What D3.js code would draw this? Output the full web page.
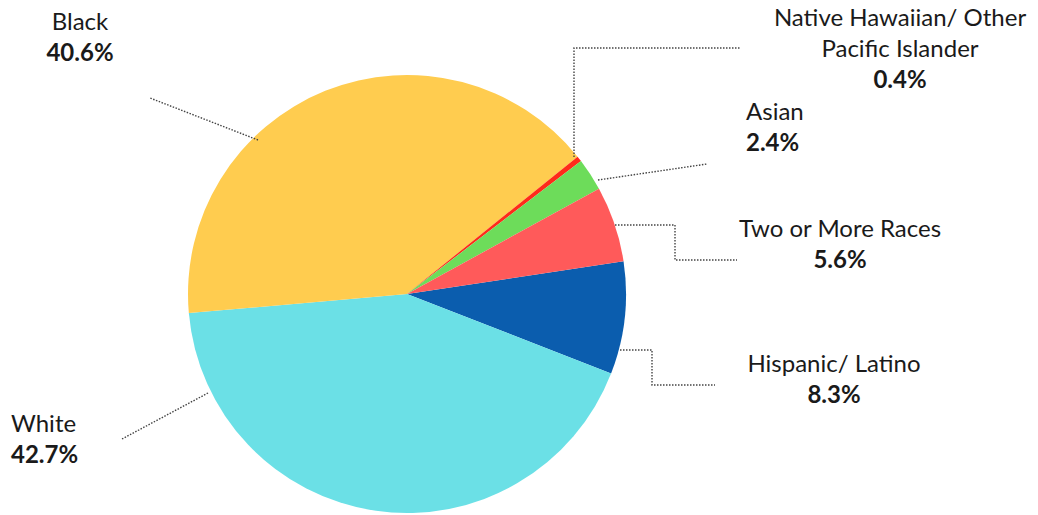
<!DOCTYPE html>
<html><head><meta charset="utf-8">
<script src="https://cdn.jsdelivr.net/npm/d3@7"></script>
<style>
html,body{margin:0;padding:0;background:#fff;}
svg{display:block;}
text{font-family:Lato,"Open Sans",sans-serif;fill:#1a1a1a;}
</style></head>
<body>
<svg id="chart" width="1038" height="515"></svg>
<script>
// Data (in drawing order, clockwise starting with Hispanic/ Latino)
const categories = ["Hispanic/ Latino", "White", "Black", "Native Hawaiian/ Other Pacific Islander", "Asian", "Two or More Races"];
const values = [8.3, 42.7, 40.6, 0.4, 2.4, 5.6];
const colors = ["#0B5DAE", "#6BE0E6", "#FFCC4F", "#FF2A1A", "#6DDC5A", "#FF5A5A"];
const labelLines = [["Hispanic/ Latino"], ["White"], ["Black"], ["Native Hawaiian/ Other", "Pacific Islander"], ["Asian"], ["Two or More Races"]];
const pctLabels = ["8.3%", "42.7%", "40.6%", "0.4%", "2.4%", "5.6%"];

const svg = d3.select("#chart");
const cx = 407, cy = 294, R = 219;
const startDeg = 81.4;

const pie = d3.pie().sort(null).value(d => d)
  .startAngle(startDeg * Math.PI / 180)
  .endAngle((startDeg + 360) * Math.PI / 180);
const arcs = pie(values);
const arc = d3.arc().innerRadius(0).outerRadius(R);

const g = svg.append("g").attr("transform", `translate(${cx},${cy})`);
g.selectAll("path").data(arcs).join("path")
  .attr("d", arc)
  .attr("fill", (d, i) => colors[i]);

// Label layout (positions and leader-line routing)
const layout = [
  { anchor: "middle", x: 834, y: 372, leader: [[620, 350], [652, 350], [652, 385], [715, 385]] },
  { anchor: "start", x: 11, y: 432, leader: [[208, 393], [122, 439]] },
  { anchor: "middle", x: 80, y: 30, leader: [[258, 140], [150, 98]] },
  { anchor: "middle", x: 900, y: 26, leader: [[574, 157], [574, 48], [740, 48]] },
  { anchor: "start", x: 746, y: 120, leader: [[598, 180], [707, 164]] },
  { anchor: "middle", x: 840, y: 237, leader: [[615, 225], [675, 225], [675, 260], [737, 260]] }
];

const lineH = 31;
const line = d3.line();
layout.forEach((L, i) => {
  svg.append("path")
    .attr("d", line(L.leader))
    .attr("fill", "none")
    .attr("stroke", "#444")
    .attr("stroke-width", 1.4)
    .attr("stroke-dasharray", "1.5,1.5");
  const t = svg.append("text").attr("text-anchor", L.anchor).style("font-size", "24px");
  labelLines[i].forEach((s, k) => {
    t.append("tspan").attr("x", L.x).attr("y", L.y + k * lineH).text(s);
  });
  t.append("tspan").attr("x", L.x).attr("y", L.y + labelLines[i].length * lineH)
    .style("font-weight", "bold").text(pctLabels[i]);
});
</script>
</body></html>
